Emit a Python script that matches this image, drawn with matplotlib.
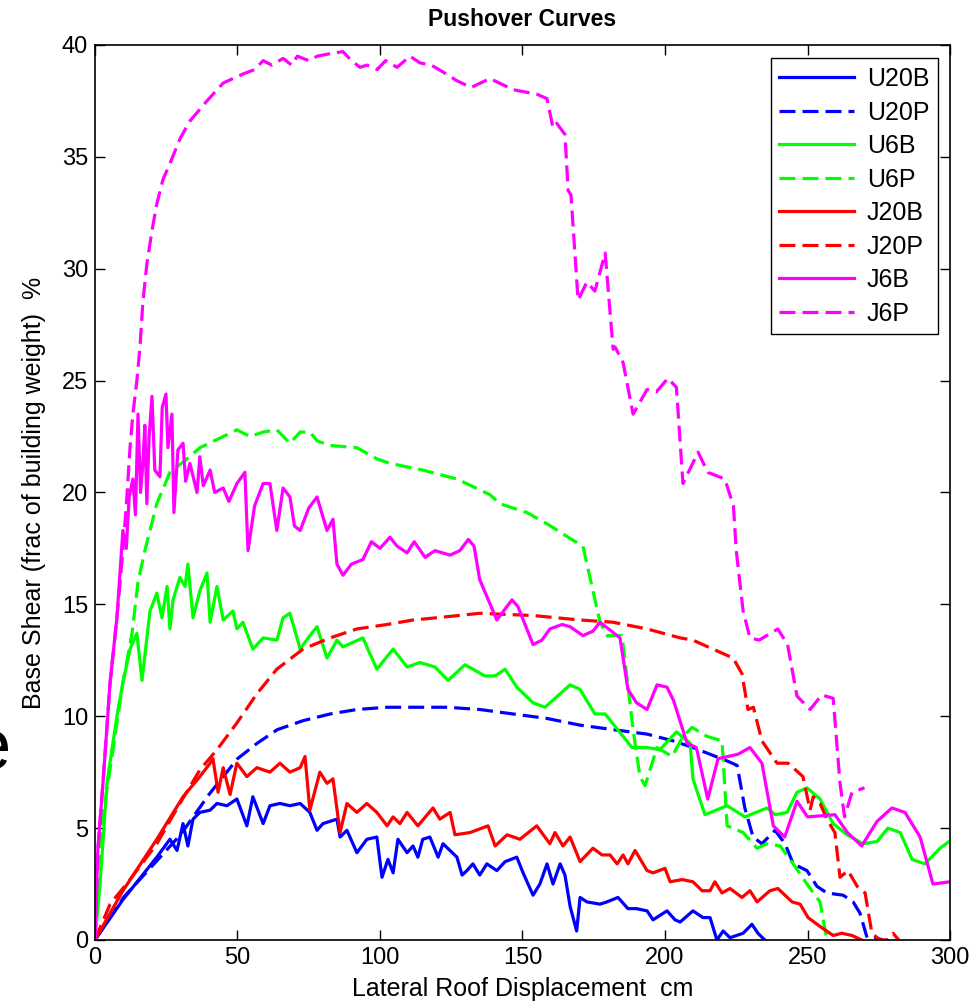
import matplotlib
matplotlib.use('Agg')
import matplotlib.pyplot as plt

plt.rcParams['font.family'] = ['Liberation Sans', 'DejaVu Sans']

# U20B
u20b_x = [0, 9.8, 21.7, 26.3, 28.8, 30.9, 32.6, 34.4, 36.8, 40.4, 42.8, 46.3, 49.8, 53.3, 55.4, 59, 61.4,
          64.9, 68.4, 72, 75.4, 77.9, 80, 84.9, 86, 88.4, 91.9, 95.4, 98.9, 100.7, 102.8, 104.6, 106.3,
          109.5, 111.6, 113.3, 115, 117.5, 120.4, 122.1, 127, 128.8, 130.5, 132.6, 135, 137.5, 141, 143.9,
          148, 150.2, 153.7, 156.1, 158.6, 160.7, 163.2, 164.9, 166.7, 169, 170.2, 172.6, 177.2, 179.6,
          183.5, 187, 190, 193.7, 195.8, 200.7, 203.5, 205.3, 209.8, 213.3, 215.8, 218.2, 220.4, 222.8,
          227.4, 230.5, 232.6, 235]
u20b_y = [0, 1.8, 3.7, 4.5, 4.0, 5.2, 4.2, 5.4, 5.7, 5.8, 6.1, 6.0, 6.3, 5.1, 6.4, 5.2, 6.0,
          6.1, 6.0, 6.1, 5.7, 4.9, 5.2, 5.4, 4.6, 4.9, 3.9, 4.5, 4.6, 2.8, 3.6, 3.0, 4.5,
          3.9, 4.2, 3.7, 4.5, 4.6, 3.7, 4.3, 3.7, 2.9, 3.1, 3.4, 2.9, 3.4, 3.1, 3.5,
          3.7, 3.0, 2.0, 2.5, 3.4, 2.5, 3.4, 2.9, 1.5, 0.4, 1.9, 1.7, 1.6, 1.7,
          1.9, 1.4, 1.4, 1.3, 0.9, 1.3, 0.9, 0.8, 1.3, 1.0, 1.0, 0, 0.4, 0.1,
          0.3, 0.7, 0.3, 0]

# U20P
u20p_x = [0, 10, 20, 30, 40, 50, 57, 64, 73, 82.5, 91.9, 102.5, 111.6, 123.5, 135, 146.7, 158.6, 170.2,
          181.8, 193.7, 202.8, 209.8, 215.8, 221.8, 225.3, 228, 230.9, 234, 238.6, 242.1, 245, 249.8,
          253.3, 256.8, 262.5, 266, 268.4, 270.9, 273.7, 276.5]
u20p_y = [0, 1.9, 3.3, 4.7, 6.5, 8.1, 8.8, 9.4, 9.8, 10.1, 10.3, 10.4, 10.4, 10.4, 10.3, 10.1, 9.9, 9.6,
          9.4, 9.2, 8.9, 8.6, 8.3, 8.0, 7.8, 5.9, 4.6, 4.3, 4.9, 4.3, 3.4, 3.1,
          2.4, 2.1, 2.0, 1.7, 1.2, 0.1, 0.1, 0]

# U6B
u6b_x = [0, 1.8, 4.2, 7.7, 9.8, 12.3, 14.7, 16.5, 19.3, 21.7, 23.5, 25.3, 26.3, 27.4, 29.8, 31.6, 32.6,
         34.4, 36.8, 39.3, 40.4, 42.8, 45, 48.4, 49.8, 51.9, 55.4, 59, 63.8, 66, 68.4, 72, 75.4, 77.9,
         81.4, 84.9, 87, 94, 98.9, 104.6, 109.5, 114, 119.3, 123.9, 129.8, 136.8, 140.4, 143.9, 148,
         153.7, 157.9, 166.7, 170.2, 175.4, 179, 188.4, 193.7, 198.2, 204, 208.8, 209.8, 214, 221.8, 228,
         235.8, 238.6, 242.8, 246.3, 249.8, 254.4, 259, 263.9, 269.5, 274.4, 278.2, 282.5, 286.7, 291.2,
         296.5, 300.7]
u6b_y = [0, 2.5, 7.0, 10.0, 11.5, 13.0, 13.7, 11.6, 14.7, 15.5, 14.4, 15.8, 13.9, 15.2, 16.2, 15.8, 16.8,
         14.4, 15.6, 16.4, 14.2, 15.8, 14.3, 14.7, 13.9, 14.2, 13.0, 13.5, 13.4, 14.4, 14.6, 13.0, 13.6, 14.0,
         12.6, 13.4, 13.1, 13.5, 12.1, 13.0, 12.2, 12.4, 12.2, 11.6, 12.3, 11.8, 11.8, 12.1, 11.3,
         10.6, 10.4, 11.4, 11.2, 10.1, 10.1, 8.6, 8.6, 8.5, 9.3, 8.8, 7.2, 5.6, 6.0, 5.5,
         5.9, 5.6, 5.7, 6.6, 6.8, 6.3, 5.2, 4.7, 4.3, 4.4, 5.0, 4.8, 3.6, 3.4,
         4.1, 4.5]

# U6P
u6p_x = [0, 2.8, 6.3, 9.8, 13, 15.1, 17.5, 21.7, 26.3, 33.3, 36.8, 45, 49.8, 54.4, 59, 63.8, 68.4, 72,
         75.4, 78, 82.5, 91.9, 98.9, 103.5, 115, 127, 138.6, 142, 151.6, 158.6, 166, 171.2, 172.6, 177.2,
         179.6, 184.9, 188.8, 191.2, 193, 197.2, 202.5, 206.3, 209.5, 214.7, 220, 221.8, 227.4, 232.3,
         235.8, 240.4, 245, 249.8, 254.4, 256.8]
u6p_y = [0, 5.5, 8.5, 11.5, 13.7, 16.0, 17.4, 19.5, 20.9, 21.6, 22.0, 22.5, 22.8, 22.5, 22.7, 22.8, 22.2, 22.7,
         22.7, 22.3, 22.1, 22.0, 21.5, 21.3, 21.0, 20.6, 19.9, 19.5, 19.1, 18.6, 18.0, 17.6, 16.8, 14.2,
         13.6, 13.6, 9.4, 7.3, 6.9, 8.6, 8.2, 9.1, 9.5, 9.1, 8.9, 5.1, 4.8, 4.1,
         4.3, 4.2, 3.4, 2.5, 1.7, 0]

# J20B
j20b_x = [0, 9.8, 21.7, 30.9, 36.8, 40.4, 41.4, 43.2, 45, 47.4, 49.8, 53.3, 56.8, 61.4, 64.9, 68.4, 72,
          73.7, 75.4, 78.9, 81.4, 83.5, 86, 88.4, 91.9, 95.4, 98.9, 102.5, 104.6, 107, 109.5, 113.3, 118.6,
          121, 124.6, 126.3, 131.6, 137.9, 140.4, 144.6, 149.1, 155, 159.6, 161.4, 164.2, 166.7, 170.2,
          174.7, 177.9, 180.7, 183.2, 185.3, 187, 189.5, 193.7, 195.8, 200, 201.8, 206, 209.8, 213, 215.8,
          217.5, 220, 222.8, 227, 229.8, 232.3, 236.8, 239.6, 244.6, 247.4, 250.2, 254.4, 259, 262, 265.6,
          269]
j20b_y = [0, 2.2, 4.5, 6.4, 7.3, 7.9, 8.1, 6.6, 7.7, 6.5, 7.9, 7.3, 7.7, 7.5, 7.9, 7.5, 7.7,
          8.2, 5.8, 7.5, 7.0, 7.2, 4.8, 6.1, 5.7, 6.1, 5.7, 5.1, 5.5, 5.2, 5.7, 5.1, 5.9,
          5.4, 5.7, 4.7, 4.8, 5.1, 4.2, 4.7, 4.5, 5.1, 4.3, 4.8, 4.2, 4.6, 3.5,
          4.1, 3.8, 3.8, 3.4, 3.8, 3.4, 4.0, 3.1, 3.0, 3.2, 2.6, 2.7, 2.6, 2.2, 2.2,
          2.6, 2.1, 2.3, 1.9, 2.2, 1.7, 2.2, 2.3, 1.7, 1.6, 1.0, 0.6, 0.2, 0.3, 0.2,
          0]

# J20P
j20p_x = [0, 5.3, 12.3, 21.7, 29.8, 36.8, 42.8, 49.8, 56.8, 63.8, 73, 82.5, 91.9, 102.5, 111.6, 120, 135,
          153.7, 170.2, 181.8, 193.7, 205.3, 209.8, 216.8, 223.9, 227, 229.1, 231, 234, 239.3, 243.2, 248.4,
          250.9, 252, 254.4, 256.8, 259.6, 261.4, 264.2, 267.4, 270.2, 272.6, 275.4, 278, 280, 282]
j20p_y = [0, 1.6, 2.7, 4.3, 6.1, 7.6, 8.5, 9.7, 11.0, 12.1, 13.0, 13.5, 13.9, 14.1, 14.3, 14.4, 14.6,
          14.5, 14.3, 14.2, 13.9, 13.5, 13.4, 13.0, 12.6, 11.9, 10.3, 10.4, 8.9, 7.9, 7.9, 7.3,
          5.8, 6.4, 6.1, 5.4, 4.8, 2.8, 3.1, 2.4, 2.1, 0.3, 0, 0, 0.3, 0]

# J6B
j6b_x = [0, 1, 2.8, 5.3, 7.7, 9.8, 11, 12, 13.3, 14.2, 15.1, 16, 16.8, 17.5, 18.2, 19, 20, 21, 22.8, 23.6,
         24.9, 25.6, 27, 27.7, 29.1, 30.9, 31.8, 33.3, 35.8, 36.8, 38, 40.4, 42, 45, 47, 49.8, 52.6, 53.7,
         56, 59, 61.4, 63.8, 66, 68.4, 70, 72, 75, 77.9, 81.4, 83.5, 84.9, 87, 90, 94, 97, 100, 103.5, 106,
         109.5, 112, 115.8, 119.3, 124.6, 128, 131, 133, 135, 141, 146.3, 148.4, 153.7, 156.8, 159.6,
         163.9, 166.7, 171.2, 174.7, 177.2, 184.2, 187, 190, 193.7, 197.2, 200.7, 203, 207.7, 211, 215,
         218.6, 225.6, 229.8, 234, 238, 242, 246.3, 250, 259.6, 264, 269, 274.4, 279.6, 284.2, 289.5,
         294, 300]
j6b_y = [0, 4.0, 7.0, 11.5, 14.4, 18.3, 17.5, 19.8, 20.6, 19.0, 23.5, 20.0, 21.3, 23.0, 19.5, 22.5, 24.3, 21.0, 20.7, 23.8,
         24.4, 22.0, 23.5, 19.1, 21.9, 22.2, 20.5, 21.3, 20.0, 21.6, 20.3, 21.0, 20.0, 20.2, 19.6, 20.4, 20.9, 17.4,
         19.4, 20.4, 20.4, 18.3, 20.2, 19.8, 18.5, 18.3, 19.3, 19.8, 18.3, 18.8, 16.8, 16.3, 16.8, 17.0, 17.8, 17.5, 18.0, 17.6,
         17.3, 17.8, 17.1, 17.4, 17.2, 17.4, 17.9, 17.6, 16.1, 14.3, 15.2, 14.9, 13.2, 13.4, 13.9,
         14.1, 14.0, 13.6, 13.8, 14.2, 13.5, 11.2, 10.6, 10.3, 11.4, 11.3, 10.7, 8.8, 8.6, 6.3,
         8.1, 8.3, 8.6, 7.9, 5.1, 4.6, 6.2, 5.5, 5.6, 4.8, 4.2, 5.3, 5.9, 5.7, 4.6,
         2.5, 2.6]

# J6P
j6p_x = [0, 1, 2.8, 5.3, 7.7, 9.8, 11.2, 12.3, 13.3, 14.7, 15.8, 16.8, 18.2, 20, 21.7, 23.9, 26.3, 29.8,
         33.3, 39.3, 45, 51.9, 56, 59, 62, 66, 69, 71, 75, 78, 82, 87, 90, 93, 95.4, 99, 102, 106, 110.5,
         114, 118, 122, 127, 132, 138.6, 146.7, 155, 158.6, 160.7, 162, 164.9, 166, 167, 169.5, 172.6,
         175.4, 179, 181.8, 182.5, 185.3, 188.8, 193.7, 197, 201, 204, 206.3, 211.6, 215, 221, 224, 225,
         227.4, 229.8, 233, 239.6, 243, 246.3, 250.9, 255, 259, 261.4, 263, 265.6, 270]
j6p_y = [0, 4.0, 7.0, 11.5, 14.4, 17.4, 19.8, 22.0, 23.5, 25.0, 26.5, 28.5, 30.2, 31.7, 32.9, 34.0, 34.7, 35.8,
         36.6, 37.5, 38.3, 38.7, 38.9, 39.3, 39.1, 39.4, 39.1, 39.5, 39.3, 39.5, 39.6, 39.7, 39.3, 39.0, 39.1, 38.9, 39.3, 39.0, 39.5,
         39.2, 39.1, 38.8, 38.4, 38.1, 38.5, 38.0, 37.8, 37.6, 36.3, 36.5, 36.0, 33.5, 33.3, 28.6, 29.4,
         29.0, 30.7, 26.4, 26.5, 25.8, 23.5, 24.6, 24.5, 25.1, 24.7, 20.4, 21.8, 20.9, 20.6, 19.4, 17.4,
         14.7, 13.5, 13.4, 13.9, 13.2, 10.9, 10.3, 10.95, 10.8, 7.0, 5.5, 6.6, 6.8]

fig = plt.figure(figsize=(9.77, 10.08), dpi=100)
ax = fig.add_axes([0.0972, 0.0675, 0.8752, 0.8879])

lw = 2.3
dash = (5, 2.2)
ax.plot(u20b_x, u20b_y, color='#0000ff', lw=lw, label='U20B')
ax.plot(u20p_x, u20p_y, color='#0000ff', lw=lw, ls='--', dashes=dash, label='U20P')
ax.plot(u6b_x, u6b_y, color='#00ff00', lw=lw, label='U6B')
ax.plot(u6p_x, u6p_y, color='#00ff00', lw=lw, ls='--', dashes=dash, label='U6P')
ax.plot(j20b_x, j20b_y, color='#ff0000', lw=lw, label='J20B')
ax.plot(j20p_x, j20p_y, color='#ff0000', lw=lw, ls='--', dashes=dash, label='J20P')
ax.plot(j6b_x, j6b_y, color='#ff00ff', lw=lw, label='J6B')
ax.plot(j6p_x, j6p_y, color='#ff00ff', lw=lw, ls='--', dashes=dash, label='J6P')

ax.set_xlim(0, 300)
ax.set_ylim(0, 40)
ax.set_xticks(range(0, 301, 50))
ax.set_yticks(range(0, 41, 5))
ax.tick_params(direction='in', length=7, width=1, top=True, right=True, labelsize=17, pad=5)
for s in ax.spines.values():
    s.set_linewidth(1.2)

ax.set_title('Pushover Curves', fontsize=16.5, fontweight='bold', pad=14)
ax.set_xlabel('Lateral Roof Displacement  cm', fontsize=18, labelpad=6)
ax.set_ylabel('Base Shear (frac of building weight)  %', fontsize=18, labelpad=11)

leg = ax.legend(loc='upper right', fontsize=18, handlelength=3.0, labelspacing=0.38,
                handletextpad=0.5, fancybox=False, edgecolor='black', framealpha=1,
                borderpad=0.35, borderaxespad=0, bbox_to_anchor=(0.986, 0.985))
leg.get_frame().set_linewidth(1.0)

fig.text(11 / 977, 0.255, 'e', fontsize=52, ha='right', va='center')

fig.savefig('out.png', dpi=100)
